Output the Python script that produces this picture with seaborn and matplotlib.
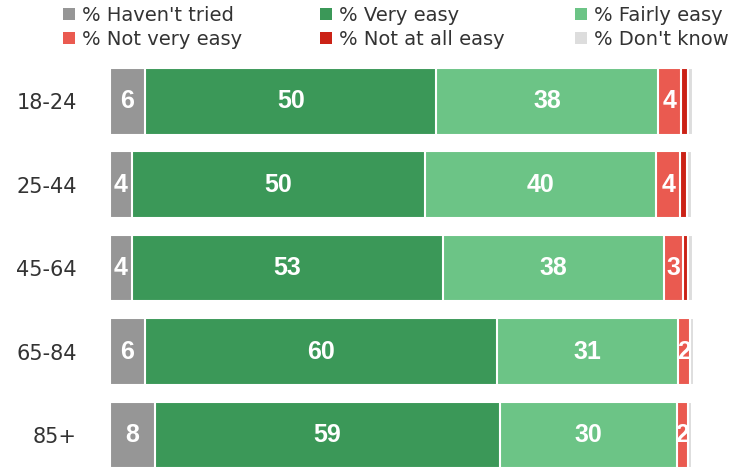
import numpy as np
import pandas as pd
import matplotlib
matplotlib.use("Agg")
import matplotlib.pyplot as plt
import seaborn as sns
from matplotlib.patches import Patch, Rectangle

# data
age_groups = ["18-24", "25-44", "45-64", "65-84", "85+"]
series_names = ["% Haven't tried", "% Very easy", "% Fairly easy",
                "% Not very easy", "% Not at all easy", "% Don't know"]
havent_tried = [6.0, 3.7, 3.7, 6.0, 7.7]
very_easy = [50.0, 50.3, 53.4, 60.3, 59.2]
fairly_easy = [38.0, 39.7, 38.0, 31.2, 30.3]
not_very_easy = [4.0, 4.1, 3.1, 1.9, 1.9]
not_at_all_easy = [1.2, 1.2, 1.0, 0.0, 0.0]
dont_know = [0.8, 0.8, 0.8, 0.8, 0.8]

colors = ["#969696", "#3b9858", "#6cc486", "#ea5a50", "#cb2216", "#dddddd"]

sns.set_style("white")
plt.rcParams['font.family'] = ['DejaVu Sans']

values = np.array([havent_tried, very_easy, fairly_easy,
                   not_very_easy, not_at_all_easy, dont_know])
cum = np.cumsum(values, axis=0)

fig = plt.figure(figsize=(7.36, 4.70), dpi=100)
ax = fig.add_axes([110 / 736, 0, 583 / 736, (470 - 59.5) / 470])

# stacked bars: draw cumulative totals from longest to shortest
for i in reversed(range(len(series_names))):
    df = pd.DataFrame({"group": age_groups, "value": cum[i]})
    sns.barplot(data=df, x="value", y="group", orient="h", color=colors[i],
                saturation=1, width=0.8, errorbar=None, edgecolor="white",
                linewidth=1.5, ax=ax)

# segment labels, clipped to their segment
for i in range(len(series_names)):
    for j in range(len(age_groups)):
        v = values[i][j]
        if round(v) >= 2:
            start = cum[i][j] - v
            t = ax.text(start + v / 2, j, f"{round(v)}", ha="center", va="center",
                        color="white", fontsize=18, fontweight="bold",
                        family=["Liberation Sans", "DejaVu Sans"])
            clip = Rectangle((start, j - 0.4), v, 0.8, transform=ax.transData)
            t.set_clip_path(clip)

ax.set_xlim(0, 100)
ax.set_ylim(4.42, -0.5)
ax.set_xlabel("")
ax.set_ylabel("")
ax.set_xticks([])
ax.tick_params(axis="y", length=0, pad=24, labelsize=15, labelcolor="#333333")
sns.despine(ax=ax, left=True, bottom=True)

# legend: three columns, laid out row by row
col_left = [63, 320, 575]
for c in range(3):
    handles = [Patch(facecolor=colors[c], edgecolor="none"),
               Patch(facecolor=colors[c + 3], edgecolor="none")]
    labels = [series_names[c], series_names[c + 3]]
    fig.legend(handles, labels, loc="upper left",
               bbox_to_anchor=(col_left[c] / 736, 1 - 6 / 470),
               frameon=False, fontsize=14, labelcolor="#333333",
               handlelength=0.62, handleheight=0.62, handletextpad=0.36,
               labelspacing=0.25, borderpad=0, borderaxespad=0)

fig.savefig("out.png", dpi=100)
